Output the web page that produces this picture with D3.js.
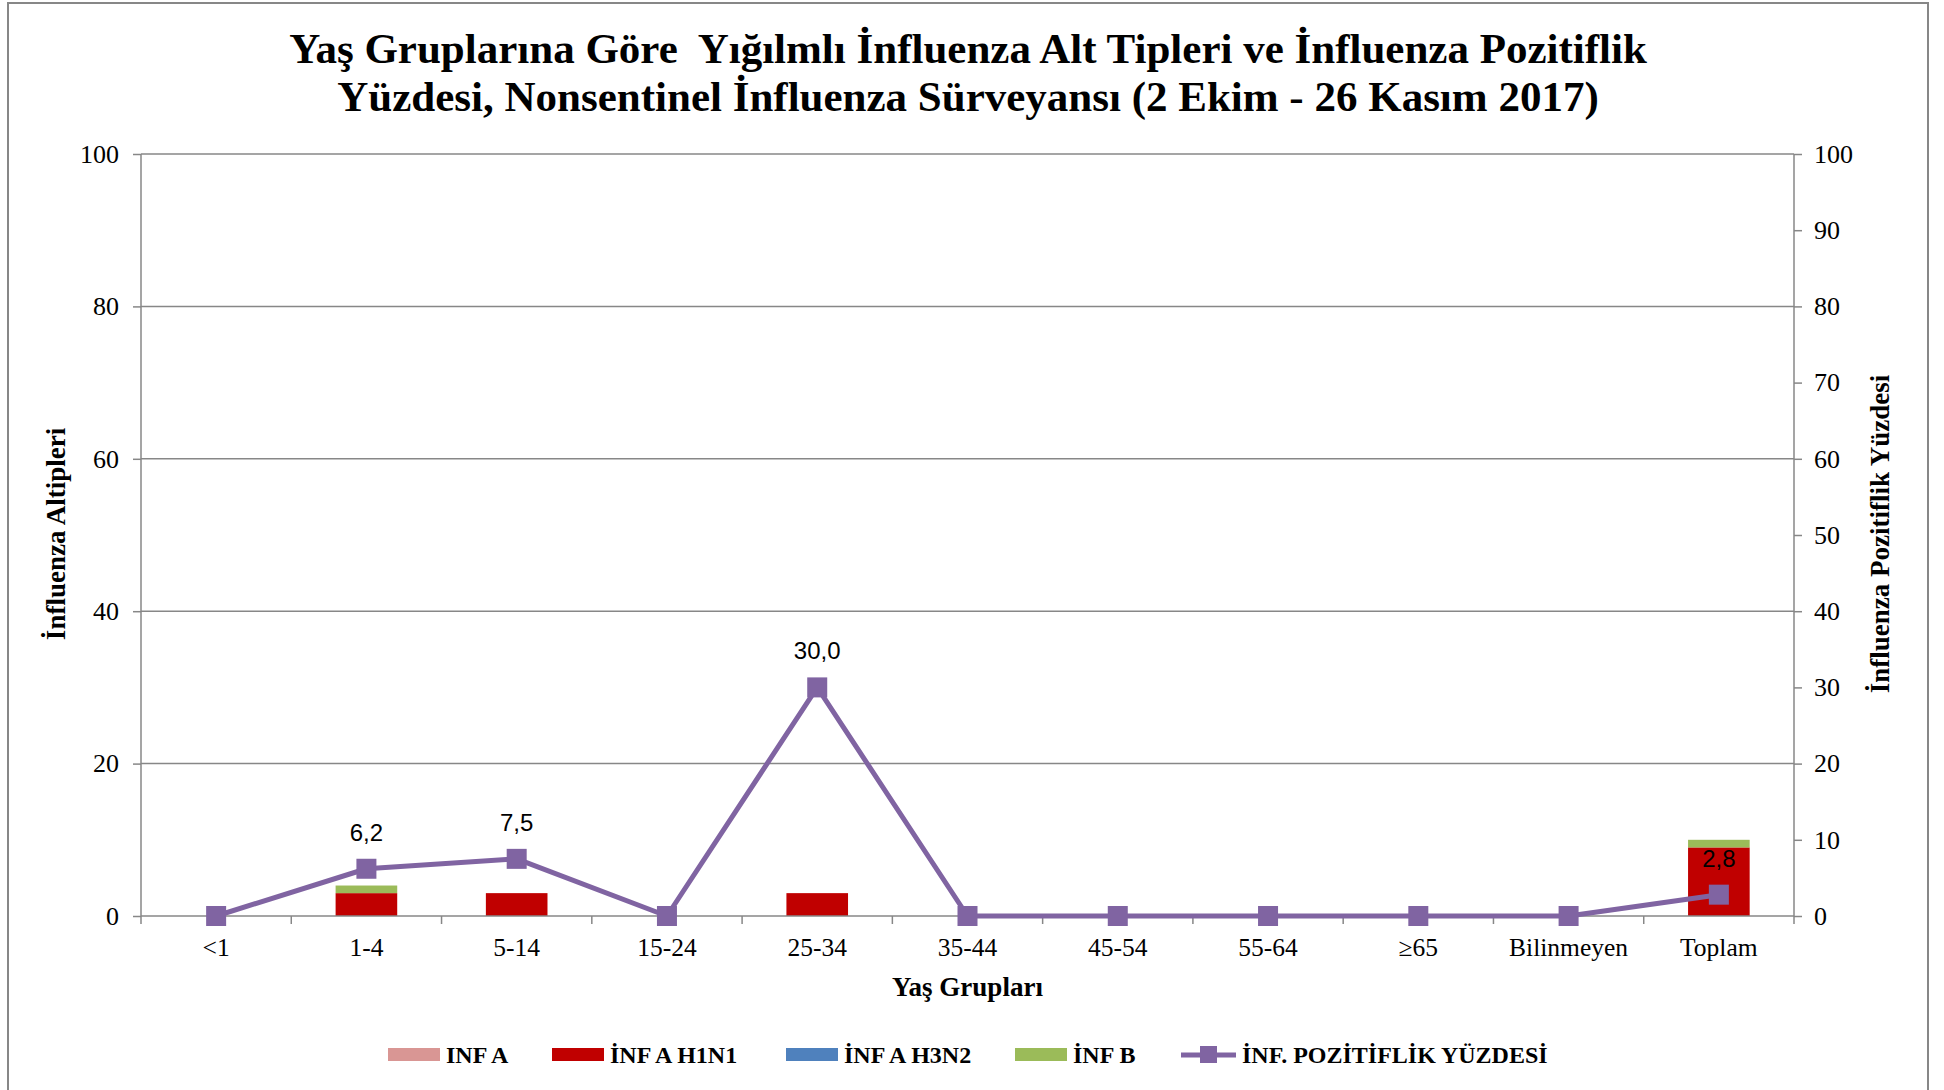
<!DOCTYPE html>
<html>
<head>
<meta charset="utf-8">
<script src="https://cdn.jsdelivr.net/npm/d3@7"></script>
<style>
  body { margin: 0; background: #fff; }
  svg { display: block; }
</style>
</head>
<body>
<div id="chart"></div>
<script>
// Age groups and series values
const categories = ['<1', '1-4', '5-14', '15-24', '25-34', '35-44', '45-54', '55-64', '≥65', 'Bilinmeyen', 'Toplam'];
const infA = [0, 0, 0, 0, 0, 0, 0, 0, 0, 0, 0];
const infAH1N1 = [0, 3, 3, 0, 3, 0, 0, 0, 0, 0, 9];
const infAH3N2 = [0, 0, 0, 0, 0, 0, 0, 0, 0, 0, 0];
const infB = [0, 1, 0, 0, 0, 0, 0, 0, 0, 0, 1];
const positivity = [0, 6.2, 7.5, 0, 30.0, 0, 0, 0, 0, 0, 2.8];
const leftTicks = [0, 20, 40, 60, 80, 100];
const rightTicks = [0, 10, 20, 30, 40, 50, 60, 70, 80, 90, 100];

const W = 1944, H = 1090;
const serif = '"Liberation Serif", "Times New Roman", serif';
const sans = '"Liberation Sans", Arial, sans-serif';
const gray = '#878787';

const keys = ['INF A', 'İNF A H1N1', 'İNF A H3N2', 'İNF B'];
const colors = {
  'INF A': '#D99694',
  'İNF A H1N1': '#C00000',
  'İNF A H3N2': '#4F81BD',
  'İNF B': '#9BBB59'
};
const lineColor = '#8064A2';

const svg = d3.select('#chart').append('svg')
  .attr('width', W)
  .attr('height', H);

// chart border
svg.append('rect')
  .attr('x', 8).attr('y', 3)
  .attr('width', 1920).attr('height', 1100)
  .attr('fill', 'none')
  .attr('stroke', gray)
  .attr('stroke-width', 2);

// title
const title = svg.append('text')
  .attr('text-anchor', 'middle')
  .style('font-family', serif)
  .style('font-weight', 'bold')
  .style('font-size', '43px')
  .style('fill', '#000');
title.append('tspan').attr('x', 968).attr('y', 63)
  .text('Yaş Gruplarına Göre\u00a0 Yığılmlı İnfluenza Alt Tipleri ve İnfluenza Pozitiflik');
title.append('tspan').attr('x', 968).attr('y', 111)
  .text('Yüzdesi, Nonsentinel İnfluenza Sürveyansı (2 Ekim - 26 Kasım 2017)');

const plot = { left: 141, right: 1794, top: 154, bottom: 916 };

const x = d3.scaleBand()
  .domain(categories)
  .range([plot.left, plot.right])
  .paddingInner(0.59)
  .paddingOuter(0.295);

const xPoint = d => x(d) + x.bandwidth() / 2;

const yLeft = d3.scaleLinear().domain([0, 100]).range([plot.bottom, plot.top]);
const yRight = d3.scaleLinear().domain([0, 100]).range([plot.bottom, plot.top]);

// gridlines
svg.append('g')
  .selectAll('line')
  .data(leftTicks.filter(t => t > 0))
  .join('line')
  .attr('x1', plot.left).attr('x2', plot.right)
  .attr('y1', d => yLeft(d)).attr('y2', d => yLeft(d))
  .attr('stroke', gray)
  .attr('stroke-width', 1.5);

// stacked bars
const data = categories.map((c, i) => ({
  cat: c,
  'INF A': infA[i],
  'İNF A H1N1': infAH1N1[i],
  'İNF A H3N2': infAH3N2[i],
  'İNF B': infB[i]
}));
const series = d3.stack().keys(keys)(data);

svg.append('g')
  .selectAll('g')
  .data(series)
  .join('g')
  .attr('fill', d => colors[d.key])
  .selectAll('rect')
  .data(d => d.filter(v => v[1] - v[0] > 0))
  .join('rect')
  .attr('x', d => x(d.data.cat))
  .attr('y', d => yLeft(d[1]))
  .attr('width', x.bandwidth())
  .attr('height', d => yLeft(d[0]) - yLeft(d[1]));

// left axis
const leftAxis = svg.append('g')
  .attr('transform', `translate(${plot.left},0)`)
  .call(d3.axisLeft(yLeft).tickValues(leftTicks).tickSize(8).tickPadding(14));
leftAxis.select('.domain').attr('stroke', gray).attr('stroke-width', 1.5).attr('d', `M0,${plot.top}V${plot.bottom + 8}`);
leftAxis.selectAll('.tick line').attr('stroke', gray).attr('stroke-width', 1.5);
leftAxis.selectAll('.tick text')
  .style('font-family', serif).style('font-size', '26px').style('fill', '#000');

// right axis
const rightAxis = svg.append('g')
  .attr('transform', `translate(${plot.right},0)`)
  .call(d3.axisRight(yRight).tickValues(rightTicks).tickSize(8).tickPadding(12));
rightAxis.select('.domain').attr('stroke', gray).attr('stroke-width', 1.5).attr('d', `M0,${plot.top}V${plot.bottom + 8}`);
rightAxis.selectAll('.tick line').attr('stroke', gray).attr('stroke-width', 1.5);
rightAxis.selectAll('.tick text')
  .style('font-family', serif).style('font-size', '26px').style('fill', '#000');

// x axis
const step = x.step();
svg.append('line')
  .attr('x1', plot.left).attr('x2', plot.right)
  .attr('y1', plot.bottom).attr('y2', plot.bottom)
  .attr('stroke', gray).attr('stroke-width', 1.5);
svg.append('g')
  .selectAll('line')
  .data(categories.slice(1))
  .join('line')
  .attr('x1', d => x(d) - x.paddingInner() * step / 2)
  .attr('x2', d => x(d) - x.paddingInner() * step / 2)
  .attr('y1', plot.bottom).attr('y2', plot.bottom + 8)
  .attr('stroke', gray).attr('stroke-width', 1.5);

svg.append('g')
  .selectAll('text')
  .data(categories)
  .join('text')
  .attr('x', d => xPoint(d))
  .attr('y', 956)
  .attr('text-anchor', 'middle')
  .style('font-family', serif)
  .style('font-size', '25.5px')
  .text(d => d);

// axis titles
svg.append('text')
  .attr('x', (plot.left + plot.right) / 2)
  .attr('y', 996)
  .attr('text-anchor', 'middle')
  .style('font-family', serif).style('font-weight', 'bold').style('font-size', '27px')
  .text('Yaş Grupları');

svg.append('text')
  .attr('transform', 'translate(65,534) rotate(-90)')
  .attr('text-anchor', 'middle')
  .style('font-family', serif).style('font-weight', 'bold').style('font-size', '27px')
  .text('İnfluenza Altipleri');

svg.append('text')
  .attr('transform', 'translate(1889,534) rotate(-90)')
  .attr('text-anchor', 'middle')
  .style('font-family', serif).style('font-weight', 'bold').style('font-size', '27px')
  .text('İnfluenza Pozitiflik Yüzdesi');

// positivity line
const lineData = categories.map((c, i) => ({ cat: c, value: positivity[i] }));
const line = d3.line()
  .x(d => xPoint(d.cat))
  .y(d => yRight(d.value));

svg.append('path')
  .datum(lineData)
  .attr('fill', 'none')
  .attr('stroke', lineColor)
  .attr('stroke-width', 5)
  .attr('stroke-linejoin', 'round')
  .attr('d', line);

svg.append('g')
  .selectAll('rect')
  .data(lineData)
  .join('rect')
  .attr('x', d => xPoint(d.cat) - 10)
  .attr('y', d => yRight(d.value) - 10)
  .attr('width', 20).attr('height', 20)
  .attr('fill', lineColor);

svg.append('g')
  .selectAll('text')
  .data(lineData.filter(d => d.value > 0))
  .join('text')
  .attr('x', d => xPoint(d.cat))
  .attr('y', d => yRight(d.value) - 28)
  .attr('text-anchor', 'middle')
  .style('font-family', sans)
  .style('font-size', '24px')
  .text(d => d3.format('.1f')(d.value).replace('.', ','));

// legend
const legendItems = [
  { label: 'INF A', color: colors['INF A'], x: 388, type: 'rect' },
  { label: 'İNF A H1N1', color: colors['İNF A H1N1'], x: 552, type: 'rect' },
  { label: 'İNF A H3N2', color: colors['İNF A H3N2'], x: 786, type: 'rect' },
  { label: 'İNF B', color: colors['İNF B'], x: 1015, type: 'rect' },
  { label: 'İNF. POZİTİFLİK YÜZDESİ', color: lineColor, x: 1181, type: 'line' }
];
const legend = svg.append('g').attr('transform', 'translate(0,1055)');
legendItems.forEach(item => {
  const g = legend.append('g').attr('transform', `translate(${item.x},0)`);
  if (item.type === 'rect') {
    g.append('rect')
      .attr('x', 0).attr('y', -7)
      .attr('width', 52).attr('height', 13)
      .attr('fill', item.color);
  } else {
    g.append('line')
      .attr('x1', 0).attr('x2', 55).attr('y1', 0).attr('y2', 0)
      .attr('stroke', item.color).attr('stroke-width', 5);
    g.append('rect')
      .attr('x', 19).attr('y', -9).attr('width', 17).attr('height', 17)
      .attr('fill', item.color);
  }
  g.append('text')
    .attr('x', item.type === 'rect' ? 58 : 61)
    .attr('y', 8)
    .style('font-family', serif).style('font-weight', 'bold').style('font-size', '24px')
    .text(item.label);
});
</script>
</body>
</html>
